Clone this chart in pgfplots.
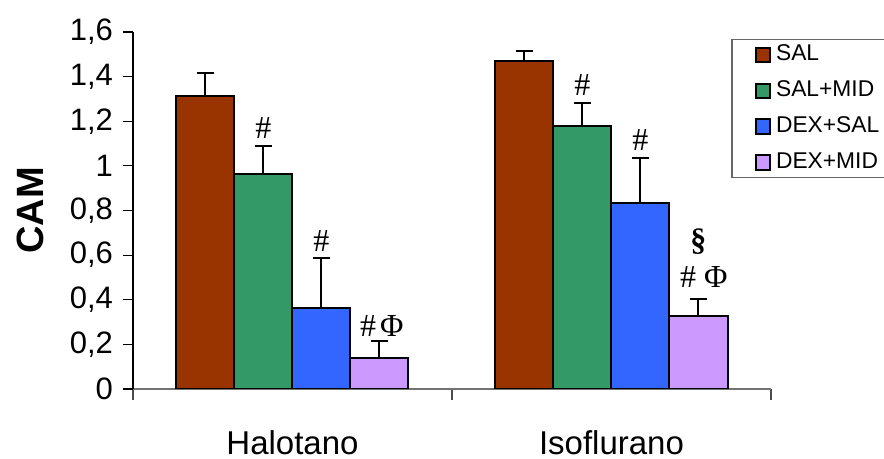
\documentclass[border=0pt]{standalone}
\usepackage{fontspec}
\setmainfont{Liberation Sans}
\newfontfamily\seriffont{Liberation Serif}
\usepackage{pgfplots}
\pgfplotsset{compat=1.18}
\definecolor{cSAL}{RGB}{153,51,0}
\definecolor{cSM}{RGB}{51,153,102}
\definecolor{cDS}{RGB}{51,102,255}
\definecolor{cDM}{RGB}{204,153,255}
\pgfplotstableread{
x  y      e
0  1.311  0.103
1  1.468  0.048
}\tSAL
\pgfplotstableread{
x  y      e
0  0.965  0.124
1  1.179  0.105
}\tSM
\pgfplotstableread{
x  y      e
0  0.365  0.222
1  0.835  0.202
}\tDS
\pgfplotstableread{
x  y      e
0  0.139  0.077
1  0.325  0.078
}\tDM
\begin{document}
\begin{tikzpicture}
\useasboundingbox (-66.5pt,-35pt) rectangle (375.5pt,194.5pt);
\begin{axis}[
  at={(0,0)}, anchor=south west,
  scale only axis, width=319pt, height=178.5pt,
  xmin=-0.5, xmax=1.5, ymin=0, ymax=1.6,
  ybar=0pt, bar width=29pt,
  axis x line*=bottom, axis y line*=left,
  x axis line style={black!55, line width=0.6pt},
  y axis line style={black, line width=0.6pt},
  xtick={0,1}, xticklabels={Halotano,Isoflurano},
  major x tick style={draw=none},
  minor xtick={-0.5,0.5,1.5},
  minor x tick style={black!70, line width=0.6pt},
  minor tick length=5.5pt,
  ytick={0,0.2,0.4,0.6,0.8,1,1.2,1.4,1.6},
  y tick style={black, line width=0.6pt},
  tick align=outside, major tick length=5pt,
  yticklabel style={font=\fontsize{15.5}{18}\selectfont, xshift=-1.5pt,
    /pgf/number format/.cd, use comma, fixed, precision=1, assume math mode=true},
  xticklabel style={font=\fontsize{16.5}{19}\selectfont, anchor=base, yshift=-28pt},
  ylabel={CAM},
  ylabel style={font=\fontsize{19}{22}\selectfont\bfseries,
    at={(axis description cs:-0.1614,0.5)}, anchor=center},
  legend image code/.code={\path (-8.5pt,0pt) (7.5pt,0pt);
    \draw[#1, line width=1pt] (0pt,-3.6pt) rectangle (7.2pt,3.6pt);},
  legend style={at={(0.938,0.9796)}, anchor=north west, draw=black!60,
    line width=0.6pt, font=\fontsize{11.4}{13}\selectfont,
    inner xsep=3pt, inner ysep=2.5pt, row sep=7.7pt,
    nodes={inner ysep=0pt, text height=8pt, text depth=2.2pt},
    legend cell align=left},
  every axis plot/.append style={draw=black, line width=1pt,
    /pgfplots/error bars/y dir=plus, /pgfplots/error bars/y explicit,
    /pgfplots/error bars/error bar style={line width=1pt, black},
    /pgfplots/error bars/error mark options={rotate=90, mark size=4.25pt, line width=1pt, black}},
]
\addplot[fill=cSAL] table[x=x, y=y, y error=e] {\tSAL};
\addplot[fill=cSM] table[x=x, y=y, y error=e] {\tSM};
\addplot[fill=cDS] table[x=x, y=y, y error=e] {\tDS};
\addplot[fill=cDM] table[x=x, y=y, y error=e] {\tDM};
\legend{SAL,SAL+MID,DEX+SAL,DEX+MID}
\begin{scope}[every node/.style={font=\seriffont\fontsize{16}{18}\selectfont, anchor=base, inner sep=0pt}]
\node[xshift=-14.5pt] at (axis cs:0,1.122) {\#};
\node[xshift=14.5pt] at (axis cs:0,0.617) {\#};
\node[xshift=44.7pt] at (axis cs:0,0.235) {\#\hspace{2pt}Φ};
\node[xshift=-14.5pt] at (axis cs:1,1.317) {\#};
\node[xshift=14.5pt] at (axis cs:1,1.071) {\#};
\node[xshift=46.2pt] at (axis cs:1,0.454) {\#\hspace{4pt}Φ};
\node[xshift=43.5pt, anchor=center] at (axis cs:1,0.661) {\bfseries §};
\end{scope}
\end{axis}
\end{tikzpicture}
\end{document}
